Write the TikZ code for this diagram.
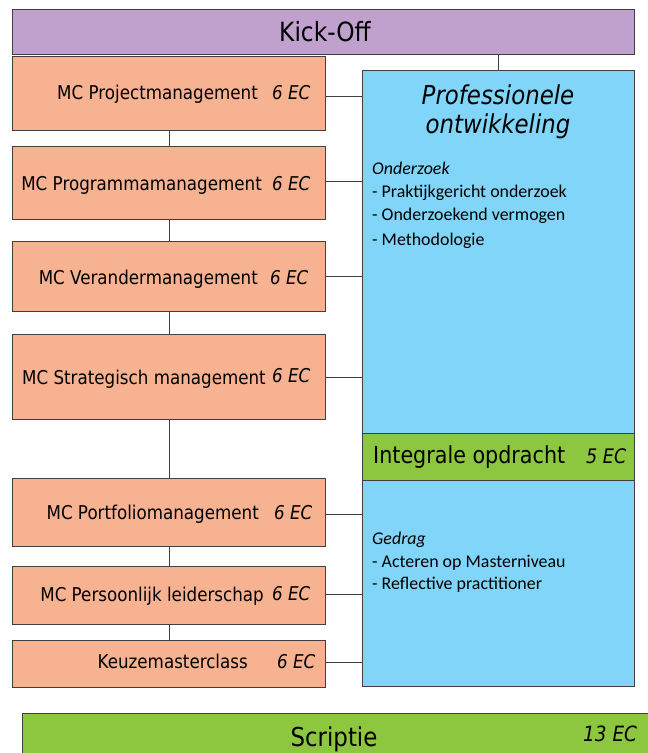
\documentclass[tikz,border=0pt]{standalone}
\usepackage{fontspec}
\setmainfont{DejaVu Sans}[FakeStretch=0.88]
\newfontfamily\calib{Carlito}
\definecolor{kickc}{RGB}{192,160,204}
\definecolor{salmonc}{RGB}{247,178,145}
\definecolor{bluec}{RGB}{128,213,248}
\definecolor{greenc}{RGB}{141,198,63}
\definecolor{linec}{RGB}{64,64,64}
\tikzset{
  boxbase/.style={draw=linec, line width=0.9pt, inner sep=0pt, anchor=north west},
  mcbox/.style={boxbase, fill=salmonc, minimum width=313pt},
  lbl/.style={inner sep=0pt, anchor=mid east, font=\fontsize{19}{22}\selectfont},
  ecl/.style={inner sep=0pt, anchor=mid west, font=\fontsize{19}{22}\selectfont\itshape},
  bl/.style={inner sep=0pt, anchor=mid west, font=\calib\fontsize{17.9}{20}\selectfont},
  conn/.style={draw=linec, line width=0.9pt}
}
\begin{document}
\begin{tikzpicture}[x=1pt,y=-1pt]
\useasboundingbox (0,0) rectangle (648,753);
\clip (0,0) rectangle (648,753);
% top
\node[boxbase, fill=kickc, minimum width=622pt, minimum height=45pt] (kick) at (12,9) {};
\node[inner sep=0pt, font=\fontsize{26.5}{30}\selectfont] (kicktxt) at (325,32) {Kick-Off};
% blue box
\node[boxbase, fill=bluec, minimum width=272pt, minimum height=616pt] (blue) at (362,70) {};
\node[boxbase, fill=greenc, minimum width=272pt, minimum height=47pt] (integ) at (362,433) {};
% MC boxes
\node[mcbox, minimum height=74pt] (p1) at (12,56) {};
\node[mcbox, minimum height=73pt] (p2) at (12,146) {};
\node[mcbox, minimum height=70pt] (p3) at (12,241) {};
\node[mcbox, minimum height=85pt] (p4) at (12,334) {};
\node[mcbox, minimum height=68pt] (p5) at (12,478) {};
\node[mcbox, minimum height=58pt] (p6) at (12,566) {};
\node[mcbox, minimum height=47pt] (p7) at (12,640) {};
% labels
\node[lbl] (t1) at (258,97) {MC Projectmanagement};
\node[ecl] (e1) at (272,97) {6 EC};
\node[lbl] (t2) at (262,188) {MC Programmamanagement};
\node[ecl] (e2) at (272,188) {6 EC};
\node[lbl] (t3) at (258,282) {MC Verandermanagement};
\node[ecl] (e3) at (270,282) {6 EC};
\node[lbl] (t4) at (266,382) {MC Strategisch management};
\node[ecl] (e4) at (272,380) {6 EC};
\node[lbl] (t5) at (259,517) {MC Portfoliomanagement};
\node[ecl] (e5) at (274,517) {6 EC};
\node[lbl] (t6) at (264,599) {MC Persoonlijk leiderschap};
\node[ecl] (e6) at (272,598) {6 EC};
\node[lbl] (t7) at (248,666) {Keuzemasterclass};
\node[ecl] (e7) at (277,666) {6 EC};
% blue text
\node[inner sep=0pt, font=\fontsize{26}{30}\selectfont\itshape] (prof1) at (498,95) {Professionele};
\node[inner sep=0pt, font=\fontsize{26}{30}\selectfont\itshape] (prof2) at (498,126) {ontwikkeling};
\node[bl, font=\calib\fontsize{17.9}{20}\selectfont\itshape] (ond) at (372,172) {Onderzoek};
\node[bl] (o1) at (372,195) {- Praktijkgericht onderzoek};
\node[bl] (o2) at (372,218) {- Onderzoekend vermogen};
\node[bl] (o3) at (372,243) {- Methodologie};
\node[inner sep=0pt, anchor=mid west, font=\fontsize{23.5}{28}\selectfont] (integtxt) at (373,461) {Integrale opdracht};
\node[ecl, font=\fontsize{20}{24}\selectfont\itshape] (integec) at (586,461) {5 EC};
\node[bl, font=\calib\fontsize{17.9}{20}\selectfont\itshape] (ged) at (372,542) {Gedrag};
\node[bl] (g1) at (372,565) {- Acteren op Masterniveau};
\node[bl] (g2) at (372,587) {- Reflective practitioner};
% scriptie
\node[boxbase, fill=greenc, minimum width=660pt, minimum height=60pt] (scrip) at (22,713) {};
\node[inner sep=0pt, font=\fontsize{26}{30}\selectfont] (scriptxt) at (334,739) {Scriptie};
\node[ecl, font=\fontsize{21}{24}\selectfont\itshape] (scripec) at (583,739) {13 EC};
% connectors
\draw[conn] (kick.south -| blue.north) -- (blue.north);
\draw[conn] (p1.south) -- (p2.north);
\draw[conn] (p2.south) -- (p3.north);
\draw[conn] (p3.south) -- (p4.north);
\draw[conn] (p4.south) -- (p5.north);
\draw[conn] (p5.south) -- (p6.north);
\draw[conn] (p6.south) -- (p7.north);
\draw[conn] (p1.east |- 0,96) -- (blue.west |- 0,96);
\draw[conn] (p2.east |- 0,181) -- (blue.west |- 0,181);
\draw[conn] (p3.east |- 0,276) -- (blue.west |- 0,276);
\draw[conn] (p4.east |- 0,377) -- (blue.west |- 0,377);
\draw[conn] (p5.east |- 0,514) -- (blue.west |- 0,514);
\draw[conn] (p6.east |- 0,594) -- (blue.west |- 0,594);
\draw[conn] (p7.east |- 0,662) -- (blue.west |- 0,662);
\end{tikzpicture}
\end{document}
